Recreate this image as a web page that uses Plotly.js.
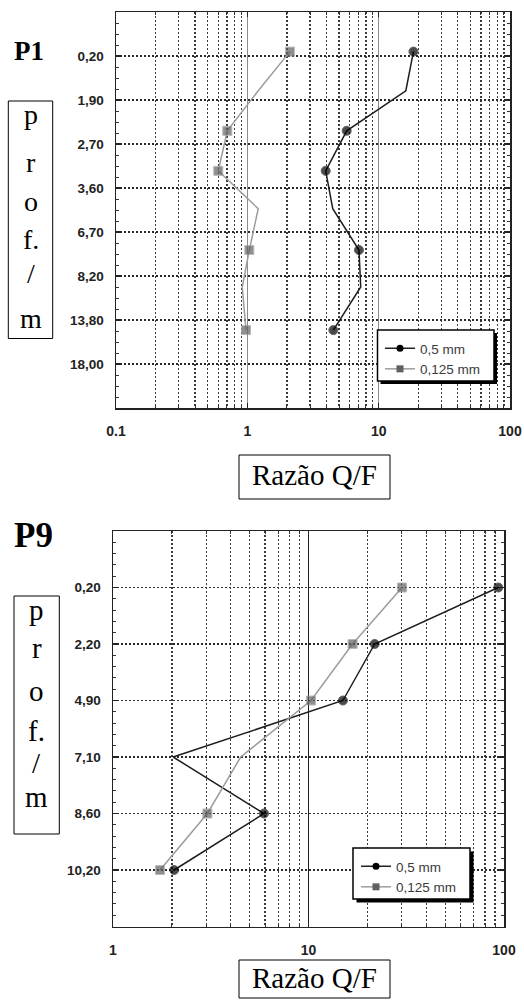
<!DOCTYPE html>
<html>
<head>
<meta charset="utf-8">
<script src="https://cdn.plot.ly/plotly-3.0.1.min.js"></script>
<style>
html,body{margin:0;padding:0;background:#fff;}
#chart{width:524px;height:1000px;}
</style>
</head>
<body>
<div id="chart"></div>
<script>
// ---------- data ----------
// P1 (top): depth tick labels and read values (y = position on depth scale, 0 = first label)
var p1DepthLabels = ['0,20','1,90','2,70','3,60','6,70','8,20','13,80','18,00'];
var p1Pos      = [-0.1, 0.79, 1.7, 2.61, 3.47, 4.41, 5.25, 6.23];
var p1Coarse   = [18.4, 16.1, 5.71, 3.95, 4.47, 7.08, 7.3, 4.52];   // 0,5 mm
var p1Fine     = [2.11, 1.21, 0.704, 0.601, 1.21, 1.035, 0.915, 0.977]; // 0,125 mm
var p1Marked   = [1, 0, 1, 1, 0, 1, 0, 1];
var p1XTicks   = [0.1, 1, 10, 100];
var p1XText    = ['0.1', '1', '10', '100'];

// P9 (bottom)
var p9DepthLabels = ['0,20','2,20','4,90','7,10','8,60','10,20'];
var p9Pos      = [0, 1, 2, 3, 4, 5];
var p9Coarse   = [93.5, 21.8, 15.0, 2.03, 5.92, 2.055];
var p9Fine     = [30.1, 16.8, 10.3, 4.5, 3.04, 1.74];
var p9Marked   = [1, 1, 1, 0, 1, 1];
var p9XTicks   = [1, 10, 100];
var p9XText    = ['1', '10', '100'];

var seriesNames = ['0,5 mm', '0,125 mm'];

// ---------- helpers ----------
var W = 524, H = 1000;
function px(x){ return x / W; }
function py(y){ return 1 - y / H; }
function minorLog(decades){
  var v = [];
  decades.forEach(function(d){ for (var k = 2; k <= 9; k++) v.push(+(k * d).toPrecision(3)); });
  return v;
}
function sizes(marked, s){ return marked.map(function(m){ return m ? s : 0; }); }
function idx(n){ var a = []; for (var i = 0; i < n; i++) a.push(i); return a; }

var SANS = 'Liberation Sans, Arial, sans-serif';
var SERIF = 'Liberation Serif, Times New Roman, serif';
var BLACK = '#1e1e1e', GREY = '#9c9c9c', GREYM = '#606060';

var traces = [
  // P1 data
  {x: p1Coarse, y: p1Pos, xaxis: 'x', yaxis: 'y', mode: 'lines+markers', showlegend: false,
   line: {color: BLACK, width: 1.5}, marker: {symbol: 'circle', color: '#000', size: sizes(p1Marked, 9)}},
  {x: p1Fine, y: p1Pos, xaxis: 'x', yaxis: 'y', mode: 'lines+markers', showlegend: false,
   line: {color: GREY, width: 1.5}, marker: {symbol: 'square', color: GREYM, size: sizes(p1Marked, 9)}},
  // P1 legend entries
  {x: [null], y: [null], xaxis: 'x', yaxis: 'y', mode: 'lines+markers', name: seriesNames[0], legend: 'legend',
   line: {color: BLACK, width: 1.5}, marker: {symbol: 'circle', color: '#000', size: 7}},
  {x: [null], y: [null], xaxis: 'x', yaxis: 'y', mode: 'lines+markers', name: seriesNames[1], legend: 'legend',
   line: {color: GREY, width: 1.5}, marker: {symbol: 'square', color: GREYM, size: 7}},
  // P9 data
  {x: p9Coarse, y: p9Pos, xaxis: 'x2', yaxis: 'y2', mode: 'lines+markers', showlegend: false,
   line: {color: BLACK, width: 1.5}, marker: {symbol: 'circle', color: '#000', size: sizes(p9Marked, 9)}},
  {x: p9Fine, y: p9Pos, xaxis: 'x2', yaxis: 'y2', mode: 'lines+markers', showlegend: false,
   line: {color: GREY, width: 1.5}, marker: {symbol: 'square', color: GREYM, size: sizes(p9Marked, 9)}},
  // P9 legend entries
  {x: [null], y: [null], xaxis: 'x2', yaxis: 'y2', mode: 'lines+markers', name: seriesNames[0], legend: 'legend2',
   line: {color: BLACK, width: 1.5}, marker: {symbol: 'circle', color: '#000', size: 7}},
  {x: [null], y: [null], xaxis: 'x2', yaxis: 'y2', mode: 'lines+markers', name: seriesNames[1], legend: 'legend2',
   line: {color: GREY, width: 1.5}, marker: {symbol: 'square', color: GREYM, size: 7}}
];

var xTickFont = {family: SANS, size: 14, color: '#222', weight: 'bold'};
var yTickFont = {family: SANS, size: 13.5, color: '#222', weight: 'bold'};
function xAxis(domain, range, tv, tt, minorVals, decadeColor){
  return {
    type: 'log', domain: domain, range: range, autorange: false,
    tickmode: 'array', tickvals: tv, ticktext: tt, tickfont: xTickFont,
    ticks: 'inside', ticklen: 5, tickwidth: 1.2, tickcolor: '#222', ticklabelstandoff: 10,
    showline: true, linecolor: '#222', linewidth: 1.5, mirror: 'allticks',
    showgrid: true, gridcolor: decadeColor, gridwidth: 1.2, griddash: 'solid',
    minor: {tickmode: 'array', tickvals: minorVals, ticks: 'inside', ticklen: 3, tickwidth: 1, tickcolor: '#333',
            showgrid: true, gridcolor: '#3a3a3a', gridwidth: 1.3, griddash: '2px,2px'},
    fixedrange: true
  };
}
function yAxis(domain, range, labels, minorStep, anchor){
  return {
    domain: domain, range: range, autorange: false, zeroline: false, anchor: anchor,
    tickmode: 'array', tickvals: idx(labels.length), ticktext: labels, tickfont: yTickFont,
    ticks: 'inside', ticklen: 5, tickwidth: 1.2, tickcolor: '#222', ticklabelstandoff: 8,
    showline: true, linecolor: '#222', linewidth: 1.5, mirror: 'allticks',
    showgrid: true, gridcolor: '#2a2a2a', gridwidth: 1.3, griddash: '2px,2px',
    minor: {dtick: minorStep, tick0: 0, ticks: 'inside', ticklen: 3, tickwidth: 1, tickcolor: '#333', showgrid: false},
    fixedrange: true
  };
}

function box(x0, y0, x1, y1){
  return {type: 'rect', xref: 'paper', yref: 'paper', x0: px(x0), x1: px(x1), y0: py(y1), y1: py(y0),
          line: {color: '#000', width: 1}, fillcolor: 'rgba(0,0,0,0)', layer: 'above'};
}
function legendFrame(x0, y0, x1, y1, sh){
  return [
    {type: 'rect', xref: 'paper', yref: 'paper', x0: px(x0 + sh), x1: px(x1 + sh), y0: py(y1 + sh), y1: py(y0 + sh),
     line: {width: 0}, fillcolor: '#000', layer: 'above'},
    {type: 'rect', xref: 'paper', yref: 'paper', x0: px(x0), x1: px(x1), y0: py(y1), y1: py(y0),
     line: {color: '#000', width: 1.5}, fillcolor: '#fff', layer: 'above'}
  ];
}
function txt(t, x, y, size, bold){
  return {text: t, xref: 'paper', yref: 'paper', x: px(x), y: py(y), xanchor: 'center', yanchor: 'middle',
          showarrow: false, font: {family: SERIF, size: size, color: '#000', weight: bold ? 'bold' : 'normal'}};
}

var profLetters = ['p', 'r', 'o', 'f.', '/', 'm'];
var profTopY = [115, 162, 202, 239, 273, 319];
var profBotY = [610, 648, 691, 731, 763, 797];

var annotations = [
  txt('P1', 29, 51, 27, true),
  txt('P9', 33, 535, 35, true),
  txt('Razão Q/F', 314, 475, 29, false),
  txt('Razão Q/F', 314, 978, 29, false)
];
profLetters.forEach(function(l, i){
  annotations.push(txt(l, 30.5, profTopY[i], 28, false));
  annotations.push(txt(l, 36.7, profBotY[i], 29, false));
});

var shapes = [
  box(8.3, 101, 52.7, 338.5),
  box(14, 596, 59.3, 834),
  box(239, 455, 390, 499),
  box(239, 960, 390, 998)
].concat(legendFrame(377.5, 330, 494, 381, 3)).concat(legendFrame(353, 848, 470, 899, 3.5));

var legendFont = {family: SANS, size: 13.5, color: '#3a3a3a'};
var layout = {
  width: W, height: H, margin: {l: 0, r: 0, t: 0, b: 0},
  paper_bgcolor: '#fff', plot_bgcolor: '#fff',
  xaxis: xAxis([px(116), px(510)], [-1, 2], p1XTicks, p1XText, minorLog([0.1, 1, 10]), '#8c8c8c'),
  yaxis: yAxis([py(408), py(12)], [8, -1], p1DepthLabels, 0.25, 'x'),
  xaxis2: xAxis([px(113), px(504)], [0, 2], p9XTicks, p9XText, minorLog([1, 10]), '#1e1e1e'),
  yaxis2: yAxis([py(926.5), py(531)], [6, -1], p9DepthLabels, 0.2, 'x2'),
  legend: {x: px(380), y: py(333), xanchor: 'left', yanchor: 'top', bgcolor: 'rgba(0,0,0,0)', borderwidth: 0,
           font: legendFont, tracegroupgap: 0},
  legend2: {x: px(356), y: py(851), xanchor: 'left', yanchor: 'top', bgcolor: 'rgba(0,0,0,0)', borderwidth: 0,
           font: legendFont, tracegroupgap: 0},
  shapes: shapes,
  annotations: annotations,
  showlegend: true
};
layout.xaxis.anchor = 'y';
layout.xaxis2.anchor = 'y2';

Plotly.newPlot('chart', traces, layout, {staticPlot: true, displayModeBar: false});
</script>
</body>
</html>
